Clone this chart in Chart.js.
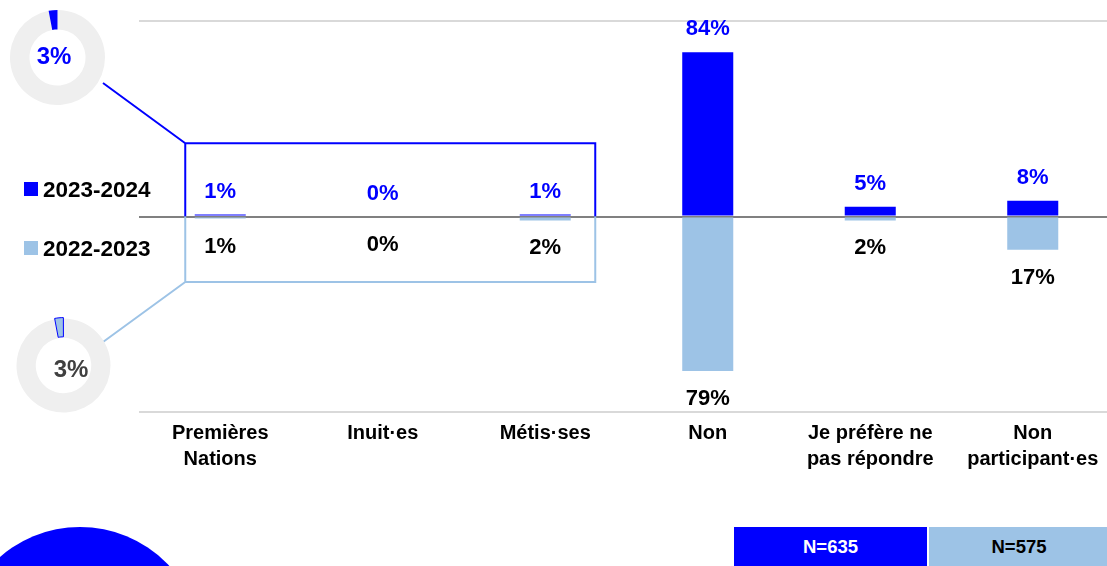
<!DOCTYPE html>
<html><head><meta charset="utf-8">
<script src="https://cdn.jsdelivr.net/npm/chart.js@4.4.1/dist/chart.umd.min.js"></script>
<style>
html,body{margin:0;padding:0;width:1107px;height:566px;overflow:hidden;background:#fff;font-family:"Liberation Sans",Arial,sans-serif;}
#wrap{position:relative;width:1107px;height:566px;overflow:hidden;}
canvas{position:absolute;}
.leg{position:absolute;left:24px;font-weight:bold;font-size:22.5px;color:#000;line-height:24px;}
.leg span.sq{display:inline-block;width:14px;height:14px;vertical-align:middle;margin-right:5px;position:relative;top:-2px;}
.dtxt{position:absolute;font-weight:bold;font-size:24px;transform:translate(-50%,-50%);white-space:nowrap;}
.nbox{position:absolute;top:527px;height:45px;font-weight:bold;font-size:18.5px;text-align:center;line-height:40px;}
#circle{position:absolute;left:-42px;top:527px;width:244px;height:244px;border-radius:50%;background:#0000ff;}
</style></head>
<body>
<div id="wrap">
  <canvas id="main" width="1114" height="500" style="left:0;top:0"></canvas>
  <canvas id="d1" width="95" height="95" style="left:10px;top:10px"></canvas>
  <canvas id="d2" width="97" height="97" style="left:15px;top:317px"></canvas>
  <div class="dtxt" id="t1" style="left:54px;top:56px;color:#0000ff"></div>
  <div class="dtxt" id="t2" style="left:71px;top:369px;color:#404040"></div>
  <div class="leg" id="l1" style="top:178px"></div>
  <div class="leg" id="l2" style="top:237px"></div>
  <div id="circle"></div>
  <div class="nbox" id="n1" style="left:734px;width:193px;background:#0000ff;color:#fff"></div>
  <div class="nbox" id="n2" style="left:929px;width:180px;background:#9dc3e6;color:#000"></div>
</div>
<script>
const categories = [["Premières","Nations"],["Inuit·es"],["Métis·ses"],["Non"],["Je préfère ne","pas répondre"],["Non","participant·es"]];
const seriesNames = ["2023-2024","2022-2023"];
const values2324 = [1, 0, 1, 84, 5, 8];
const values2223 = [1, 0, 2, 79, 2, 17];
const donutShares = [3, 3];
const sampleSizes = ["N=635","N=575"];
const DARK = "#0000ff", LIGHT = "#9dc3e6";

document.getElementById('l1').innerHTML = '<span class="sq" style="background:'+DARK+'"></span>' + seriesNames[0];
document.getElementById('l2').innerHTML = '<span class="sq" style="background:'+LIGHT+'"></span>' + seriesNames[1];
document.getElementById('t1').textContent = donutShares[0] + '%';
document.getElementById('t2').textContent = donutShares[1] + '%';
document.getElementById('n1').textContent = sampleSizes[0];
document.getElementById('n2').textContent = sampleSizes[1];

const labelPlugin = {
  id: 'labels',
  afterDatasetsDraw(chart) {
    const ctx = chart.ctx;
    ctx.save();
    ctx.font = 'bold 22px "Liberation Sans", Arial, sans-serif';
    ctx.textAlign = 'center';
    ctx.textBaseline = 'middle';
    chart.getDatasetMeta(0).data.forEach((bar, i) => {
      ctx.fillStyle = DARK;
      ctx.fillText(values2324[i] + '%', bar.x, bar.y - 23);
    });
    chart.getDatasetMeta(1).data.forEach((bar, i) => {
      ctx.fillStyle = '#000';
      ctx.fillText(values2223[i] + '%', bar.x, bar.y + 28);
    });
    // annotation boxes around the three identity categories
    const xs = chart.scales.x, ys = chart.scales.y;
    const left = xs.getPixelForValue(0) - 35, right = xs.getPixelForValue(2) + 50;
    const zero = ys.getPixelForValue(0), top = ys.getPixelForValue(37.5), bot = ys.getPixelForValue(-33.5);
    ctx.lineWidth = 2;
    ctx.strokeStyle = DARK;
    ctx.beginPath();
    ctx.moveTo(left, zero); ctx.lineTo(left, top); ctx.lineTo(right, top); ctx.lineTo(right, zero);
    ctx.moveTo(103, 83); ctx.lineTo(left, top);
    ctx.stroke();
    ctx.strokeStyle = LIGHT;
    ctx.beginPath();
    ctx.moveTo(left, zero); ctx.lineTo(left, bot); ctx.lineTo(right, bot); ctx.lineTo(right, zero);
    ctx.moveTo(103, 342); ctx.lineTo(left, bot);
    ctx.stroke();
    ctx.restore();
  }
};

new Chart(document.getElementById('main'), {
  type: 'bar',
  data: {
    labels: categories,
    datasets: [
      { label: seriesNames[0], data: values2324, backgroundColor: DARK },
      { label: seriesNames[1], data: values2223.map(v => -v), backgroundColor: LIGHT }
    ]
  },
  options: {
    responsive: false,
    animation: false,
    layout: { padding: { left: 139, top: 21, right: 0, bottom: 0 } },
    datasets: { bar: { categoryPercentage: 1, barPercentage: 0.314 } },
    plugins: { legend: { display: false }, tooltip: { enabled: false } },
    scales: {
      x: {
        stacked: true,
        grid: { display: false, drawTicks: false },
        border: { display: false },
        ticks: {
          autoSkip: false, maxRotation: 0, padding: 8, color: '#000',
          font: { family: '"Liberation Sans", Arial, sans-serif', size: 20, weight: 'bold', lineHeight: 1.3 }
        },
        afterFit: s => { s.height = 88; }
      },
      y: {
        stacked: true, min: -100, max: 100, z: 1,
        ticks: { display: false, stepSize: 100 },
        grid: { drawTicks: false, lineWidth: 2, color: c => c.tick && c.tick.value === 0 ? '#808080' : '#d9d9d9' },
        border: { display: false },
        afterFit: s => { s.width = 0; }
      }
    }
  },
  plugins: [labelPlugin]
});

function donut(id, share, color, border, off) {
  new Chart(document.getElementById(id), {
    type: 'doughnut',
    data: { datasets: [{
      data: [100 - share, share],
      backgroundColor: ['#efefef', color],
      borderColor: ['#efefef', border],
      borderWidth: [0, border ? 1 : 0],
      offset: [0, off]
    }]},
    options: {
      responsive: false, animation: false, cutout: '59%',
      plugins: { legend: { display: false }, tooltip: { enabled: false } }
    }
  });
}
donut('d1', donutShares[0], DARK, null, 0);
donut('d2', donutShares[1], LIGHT, DARK, 2);
</script>
</body></html>
